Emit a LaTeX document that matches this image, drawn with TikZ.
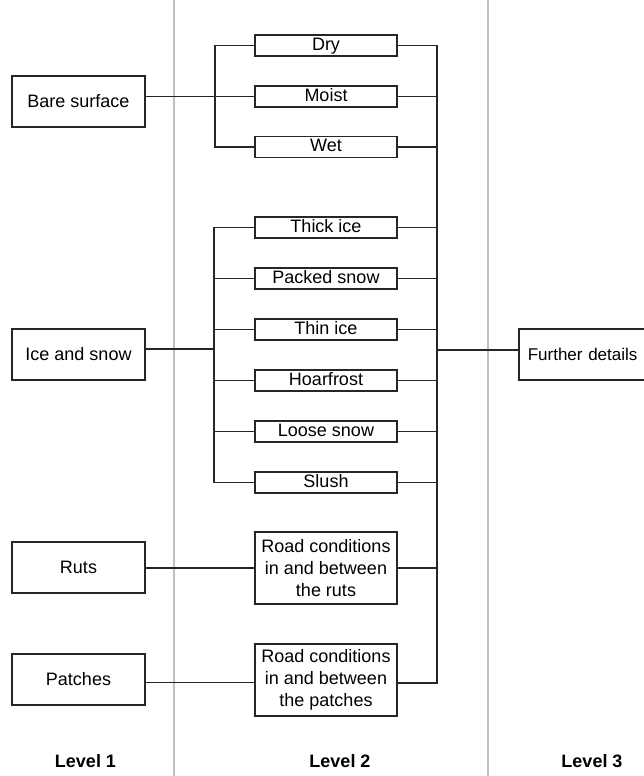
\documentclass[tikz,border=0pt]{standalone}
\usepackage{fontspec}
\setmainfont{Liberation Sans}
\begin{document}
\begin{tikzpicture}[x=1pt,y=-1pt,
  base/.style={draw=black!85,line width=1.6pt,inner sep=0pt,align=center,
    font=\fontsize{18}{22}\selectfont},
  lvlone/.style={base,minimum width=133pt,minimum height=51pt},
  lvltwo/.style={base,minimum width=142pt,minimum height=21pt,text height=12.5pt,text depth=3pt},
  lvltwobig/.style={base,minimum width=142pt,minimum height=72pt},
  link/.style={draw=black!85,line width=1.5pt},
  sep/.style={draw=black!25,line width=1.8pt},
  lbl/.style={font=\bfseries\fontsize{18}{22}\selectfont}]
\useasboundingbox (0,0) rectangle (643,776);
\fill[white] (0,0) rectangle (643,776);
% separators
\draw[sep] (174,0) -- (174,776);
\draw[sep] (488,0) -- (488,776);
% level 1
\node[lvlone] (bare) at (78.5,101.5) {Bare surface};
\node[lvlone] (ice) at (78.5,354.5) {Ice and snow};
\node[lvlone] (ruts) at (78.5,567.5) {Ruts};
\node[lvlone] (patches) at (78.5,679.5) {Patches};
% level 2
\node[lvltwo] (dry) at (326,45.5) {Dry};
\node[lvltwo] (moist) at (326,96.5) {Moist};
\node[lvltwo] (wet) at (326,147) {Wet};
\node[lvltwo] (thick) at (326,227.5) {Thick ice};
\node[lvltwo] (packed) at (326,278.5) {Packed snow};
\node[lvltwo] (thin) at (326,329.5) {Thin ice};
\node[lvltwo] (hoar) at (326,380.5) {Hoarfrost};
\node[lvltwo] (loose) at (326,431.5) {Loose snow};
\node[lvltwo] (slush) at (326,482.5) {Slush};
\node[lvltwobig] (rcruts) at (326,568) {Road conditions\\in and between\\the ruts};
\node[lvltwobig] (rcpatches) at (326,680) {Road conditions\\in and between\\the patches};
% level 3
\node[lvlone,minimum width=150pt,anchor=west,text width=140pt,align=left,font=\fontsize{17}{22}\selectfont] (further) at (518,354.5) {\hspace*{4pt}Further details};
% labels
\node[lbl] (l1) at (85.5,761) {Level 1};
\node[lbl] (l2) at (340,761) {Level 2};
\node[lbl] (l3) at (592,761) {Level 3};
% bare surface group
\coordinate (bareBr) at (215,96.5);
\draw[link] (dry.west) -- (dry.west -| bareBr) |- (wet.west);
\draw[link] (bare.east |- moist.west) -- (moist.west);
% ice group
\coordinate (iceBr) at (214,349);
\draw[link] (thick.west) -- (thick.west -| iceBr) |- (slush.west);
\foreach \n in {packed,thin,hoar,loose} \draw[link] (\n.west -| iceBr) -- (\n.west);
\draw[link] (ice.east |- iceBr) -- (iceBr);
% ruts, patches
\draw[link] (ruts.east |- rcruts.west) -- (rcruts.west);
\draw[link] ([yshift=-3pt]patches.east) -- ([yshift=-3pt]patches.east -| rcpatches.west);
% right bus
\coordinate (busTop) at (437,45.5);
\coordinate (busMid) at (437,350);
\draw[link] (dry.east) -- (dry.east -| busTop) -- ([yshift=-3pt]rcpatches.east -| busTop) -- ([yshift=-3pt]rcpatches.east);
\foreach \n in {moist,wet,thick,packed,thin,hoar,loose,slush,rcruts} \draw[link] (\n.east) -- (\n.east -| busTop);
\draw[link] (busMid) -- (busMid -| further.west);
\end{tikzpicture}
\end{document}
